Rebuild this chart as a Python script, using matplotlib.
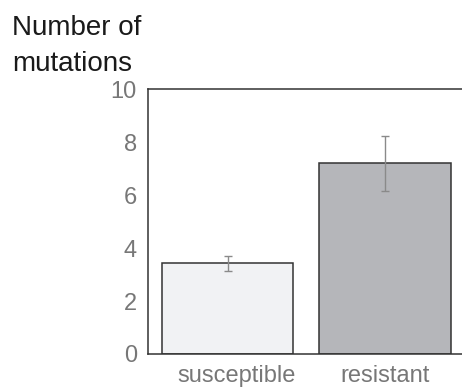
import matplotlib
matplotlib.use("Agg")
import matplotlib.pyplot as plt
from matplotlib.transforms import ScaledTranslation

plt.rcParams["font.family"] = ["Liberation Sans", "DejaVu Sans"]

categories = ["susceptible", "resistant"]
means = [3.43, 7.2]
errors = [0.29, 1.03]
colors = ["#f1f2f4", "#b5b6ba"]

fig = plt.figure(figsize=(4.62, 3.88), dpi=100)
ax = fig.add_axes([148 / 462, 1 - 354 / 388, 1 - 148 / 462, (354 - 89.3) / 388])

xs = range(len(categories))
ax.bar(xs, means, width=0.835, color=colors, edgecolor="#333333", linewidth=1.1,
       zorder=2)
ax.errorbar(xs, means, yerr=errors, fmt="none", ecolor="#8a8a8a", elinewidth=1.0,
            capsize=3, capthick=1.0, zorder=3)

ax.set_xlim(-0.508, 1.49)
ax.set_ylim(0, 10)
ax.set_yticks([0, 2, 4, 6, 8, 10])
ax.set_xticks(list(xs))
ax.set_xticklabels(categories)
ax.tick_params(axis="both", length=0, labelsize=17, labelcolor="#777777")
ax.tick_params(axis="y", pad=8)
ax.tick_params(axis="x", pad=8)
# first category label sits a little right of its bar in the original
lbl = ax.get_xticklabels()[0]
lbl.set_transform(lbl.get_transform() + ScaledTranslation(9 / 100, 0, fig.dpi_scale_trans))
for side in ["left", "top", "bottom"]:
    ax.spines[side].set_color("#333333")
    ax.spines[side].set_linewidth(1.1)
ax.spines["right"].set_visible(False)

fig.text(12 / 462, 1 - 35 / 388, "Number of", ha="left", va="baseline",
         fontsize=20, color="#1a1a1a")
fig.text(12 / 462, 1 - 71 / 388, "mutations", ha="left", va="baseline",
         fontsize=20, color="#1a1a1a")

fig.savefig("out.png", dpi=100)
